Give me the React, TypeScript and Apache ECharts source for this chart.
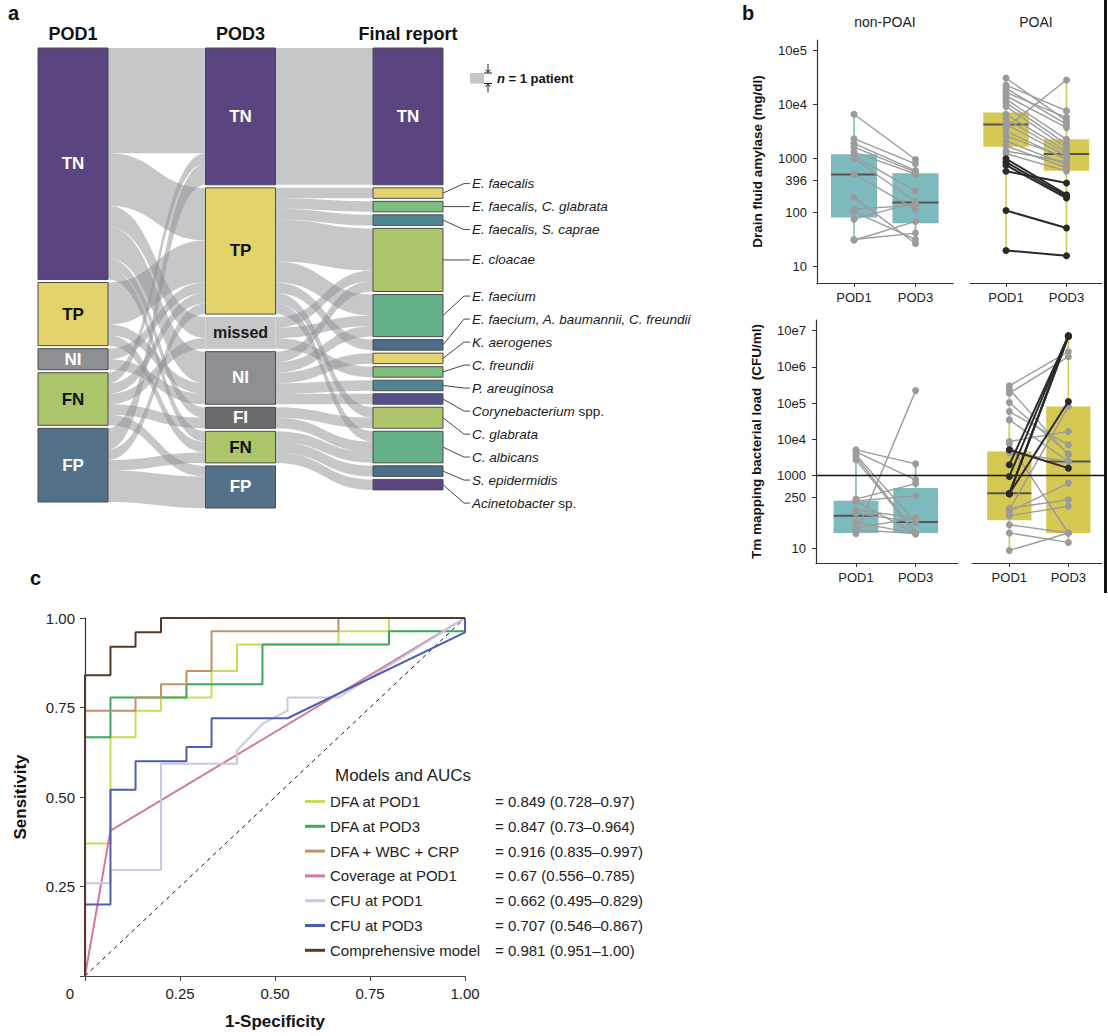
import React, { useEffect, useRef } from 'react';
import * as echarts from 'echarts';

const FONT = '"Liberation Sans", Arial, Helvetica, sans-serif';

// ---------------- Panel a : Sankey ----------------
const pod1Stages = ['TN', 'TP', 'NI', 'FN', 'FP'];
const pod3Stages = ['TN', 'TP', 'missed', 'NI', 'FI', 'FN', 'FP'];
const finalStages = [
  'TN', 'E. faecalis', 'E. faecalis, C. glabrata', 'E. faecalis, S. caprae', 'E. cloacae',
  'E. faecium', 'E. faecium, A. baumannii, C. freundii', 'K. aerogenes', 'C. freundii',
  'P. areuginosa', 'Corynebacterium spp.', 'C. glabrata', 'C. albicans', 'S. epidermidis',
  'Acinetobacter sp.',
];
const pod1ToPod3: [string, string, number][] = [
  ['TN', 'TN', 10], ['TN', 'TP', 5], ['TN', 'missed', 2], ['TN', 'NI', 3], ['TN', 'FI', 1], ['TN', 'FN', 1],
  ['TP', 'TP', 4], ['TP', 'NI', 1], ['TP', 'FN', 1],
  ['NI', 'TP', 1], ['NI', 'NI', 1],
  ['FN', 'TN', 1], ['FN', 'TP', 1], ['FN', 'missed', 1], ['FN', 'FI', 1], ['FN', 'FP', 1],
  ['FP', 'TN', 2], ['FP', 'TP', 1], ['FP', 'FN', 1], ['FP', 'FP', 3],
];
const pod3ToFinal: [string, string, number][] = [
  ['TN', 'TN', 13],
  ['TP', 'E. faecalis', 1], ['TP', 'E. faecalis, C. glabrata', 1], ['TP', 'E. faecalis, S. caprae', 1],
  ['TP', 'E. cloacae', 4], ['TP', 'E. faecium', 2], ['TP', 'E. faecium, A. baumannii, C. freundii', 1],
  ['TP', 'C. glabrata', 1], ['TP', 'C. albicans', 1],
  ['missed', 'E. cloacae', 1], ['missed', 'E. faecium', 1], ['missed', 'C. freundii', 1],
  ['NI', 'E. cloacae', 1], ['NI', 'E. faecium', 1], ['NI', 'K. aerogenes', 1], ['NI', 'P. areuginosa', 1],
  ['NI', 'Corynebacterium spp.', 1],
  ['FI', 'C. glabrata', 1], ['FI', 'C. albicans', 1],
  ['FN', 'C. albicans', 1], ['FN', 'S. epidermidis', 1], ['FN', 'Acinetobacter sp.', 1],
];

// styles (kept apart from data)
const stageColors: Record<string, string> = {
  TN: '#5a4580', TP: '#e2d36b', NI: '#8e8f93', FN: '#adc56a', FP: '#537189', FI: '#6a6b6e', missed: '#c6c7c9',
};
const stageTextColors: Record<string, string> = {
  TN: '#ffffff', TP: '#111111', NI: '#ffffff', FN: '#111111', FP: '#ffffff', FI: '#ffffff', missed: '#1a1a1a',
};
const speciesColors = [
  '#e3d36c', '#7dbd7d', '#4f8591', '#aec66b', '#64b089', '#4b6e8b', '#e3d36c',
  '#7dbd7d', '#4f8591', '#52508a', '#aec66b', '#64b089', '#4b6e8b', '#5a4580',
];

// ---------------- Panel b : paired box plots ----------------
const timepoints = ['POD1', 'POD3'];
const amyTicks = [10, 100, 396, 1000, 10000, 100000];
const amyTickLabels = ['10', '100', '396', '1000', '10e4', '10e5'];
const cfuTicks = [10, 250, 1000, 10000, 100000, 1000000, 10000000];
const cfuTickLabels = ['10', '250', '1000', '10e4', '10e5', '10e6', '10e7'];
const cfuThreshold = 1000;

// box stats: [min, q1, median, q3, max]
const amyNonBox = [[32, 82, 513, 1210, 6500], [27, 64, 155, 540, 970]];
const amyPoaiBox = [[20, 1670, 4300, 7200, 31300], [16, 600, 1220, 2300, 28700]];
const cfuNonBox = [[25, 26, 78, 201, 5120], [25, 26, 52, 450, 2100]];
const cfuPoaiBox = [[8.6, 58, 327, 4600, 297000], [14.3, 26, 2440, 80000, 7000000]];

const amyNonPod1 = [6670, 2350, 1920, 1640, 1330, 1120, 1000, 524, 193, 117, 104, 76, 32, 31];
const amyNonPod3 = [970, 805, 605, 563, 524, 253, 160, 114, 27, 137, 32, 156, 42, 69];
const amyPoaiPod1 = [31300, 23100, 20000, 16900, 14600, 12700, 11000, 9270, 6670, 5380, 4340, 3770, 3260, 2630, 2130, 1720, 1390, 1250];
const amyPoaiPod3 = [5010, 7690, 4340, 5780, 3770, 2290, 1840, 1600, 1390, 1250, 1120, 28700, 970, 1050, 780, 680, 870, 590];
const amyPoaiDarkPod1 = [1000, 865, 760, 587, 110, 20];
const amyPoaiDarkPod3 = [216, 201, 187, 356, 52, 16];

const cfuNonPod1 = [5120, 4500, 3720, 3350, 2710, 224, 200, 193, 114, 92, 51, 36, 32, 25];
const cfuNonPod3 = [2100, 762, 51, 26, 25, 600, 277, 25, 67, 51, 25, 67, 25, 220000];
const cfuPoaiPod1 = [297000, 240000, 186000, 103000, 58200, 34300, 8670, 7480, 4340, 126, 114, 102, 78, 44, 26, 8.6];
const cfuPoaiPod3 = [2600000, 3720, 1900000, 3970, 7030, 2440, 16400, 26, 2440, 215, 80000, 618, 141, 26, 14.3, 26];
const cfuPoaiDarkPod1 = [5120, 1980, 942, 314, 314, 314, 314];
const cfuPoaiDarkPod3 = [1600, 7000000, 7200000, 6900000, 7100000, 6800000, 110000];

// ---------------- Panel c : ROC ----------------
const rocNames = ['DFA at POD1', 'DFA at POD3', 'DFA + WBC + CRP', 'Coverage at POD1', 'CFU at POD1', 'CFU at POD3', 'Comprehensive model'];
const rocAucs = ['= 0.849 (0.728–0.97)', '= 0.847 (0.73–0.964)', '= 0.916 (0.835–0.997)', '= 0.67 (0.556–0.785)', '= 0.662 (0.495–0.829)', '= 0.707 (0.546–0.867)', '= 0.981 (0.951–1.00)'];
const rocDfaPod1 = [[0, 0], [0, 0.37], [0.067, 0.37], [0.067, 0.667], [0.133, 0.667], [0.133, 0.741], [0.2, 0.741], [0.2, 0.778], [0.333, 0.778], [0.333, 0.852], [0.4, 0.852], [0.4, 0.926], [0.667, 0.926], [0.667, 0.963], [0.8, 0.963], [0.8, 1], [1, 1]];
const rocDfaPod3 = [[0, 0], [0, 0.667], [0.067, 0.667], [0.067, 0.778], [0.267, 0.778], [0.267, 0.815], [0.467, 0.815], [0.467, 0.926], [0.8, 0.926], [0.8, 0.963], [1, 0.963], [1, 1]];
const rocDfaWbcCrp = [[0, 0], [0, 0.741], [0.133, 0.741], [0.133, 0.778], [0.2, 0.778], [0.2, 0.815], [0.267, 0.815], [0.267, 0.852], [0.333, 0.852], [0.333, 0.963], [0.667, 0.963], [0.667, 1], [1, 1]];
const rocCoverage = [[0, 0], [0.067, 0.406], [1, 1]];
const rocCfuPod1 = [[0, 0], [0, 0.259], [0.067, 0.259], [0.067, 0.296], [0.2, 0.296], [0.2, 0.593], [0.4, 0.593], [0.4, 0.63], [0.467, 0.704], [0.533, 0.741], [0.533, 0.778], [0.667, 0.778], [1, 1]];
const rocCfuPod3 = [[0, 0], [0, 0.2], [0.067, 0.2], [0.067, 0.52], [0.133, 0.52], [0.133, 0.6], [0.267, 0.6], [0.267, 0.64], [0.333, 0.64], [0.333, 0.72], [0.533, 0.72], [1, 0.96], [1, 1]];
const rocComprehensive = [[0, 0], [0, 0.84], [0.067, 0.84], [0.067, 0.92], [0.133, 0.92], [0.133, 0.96], [0.2, 0.96], [0.2, 1], [1, 1]];
const rocChance = [[0, 0], [1, 1]];
const rocColors = ['#c9dc55', '#3da85c', '#c39168', '#d5779f', '#c6c9e3', '#4d5db0', '#5b3826'];

// ---------------- layout constants ----------------
const SANKEY_LEFT = 38;
const SANKEY_TOP = 48;
const BOX_HALF = 0.375;
const TEAL = '#7cbabd';
const YELLOW = '#d5c853';

function tickFormatter(ticks: number[], labels: string[]) {
  return (v: number) => {
    const i = ticks.findIndex((t) => Math.abs(t - v) / t < 1e-3);
    return i >= 0 ? labels[i] : '';
  };
}

function logAxis(gridIndex: number, min: number, max: number, ticks: number[], labels: string[], show: boolean, name?: string) {
  return {
    type: 'log', logBase: 10, gridIndex, min, max, show,
    name: name || '', nameLocation: 'middle', nameGap: 53,
    nameTextStyle: { fontFamily: FONT, fontWeight: 'bold', fontSize: 13.5, color: '#111' },
    axisLine: { show: true, lineStyle: { color: '#333', width: 1.2 } },
    axisTick: { show: true, length: 4, customValues: ticks, lineStyle: { color: '#333' } },
    axisLabel: { show: true, customValues: ticks, formatter: tickFormatter(ticks, labels), fontFamily: FONT, fontSize: 13, color: '#222', margin: 10 },
    splitLine: { show: false }, minorTick: { show: false }, minorSplitLine: { show: false },
  };
}

function podAxis(gridIndex: number, min: number, max: number) {
  return {
    type: 'value', gridIndex, min, max,
    axisLine: { show: true, onZero: false, lineStyle: { color: '#333', width: 1.2 } },
    axisTick: { show: true, length: 4, customValues: [1, 2], lineStyle: { color: '#333' } },
    axisLabel: { show: true, customValues: [1, 2], formatter: (v: number) => timepoints[Math.round(v) - 1] ?? '', fontFamily: FONT, fontSize: 13, color: '#222', margin: 8 },
    splitLine: { show: false },
  };
}

function boxSeries(axisIndex: number, stats: number[][], color: string) {
  return {
    type: 'custom', xAxisIndex: axisIndex, yAxisIndex: axisIndex, z: 2, silent: true,
    data: stats.map((s, i) => [i + 1, ...s]),
    encode: { x: 0, y: [1, 2, 3, 4, 5] },
    renderItem: (_p: any, api: any) => {
      const x = api.value(0);
      const pMin = api.coord([x, api.value(1)]);
      const pQ1 = api.coord([x - BOX_HALF, api.value(2)]);
      const pQ3 = api.coord([x + BOX_HALF, api.value(4)]);
      const pMed0 = api.coord([x - BOX_HALF, api.value(3)]);
      const pMed1 = api.coord([x + BOX_HALF, api.value(3)]);
      const pMax = api.coord([x, api.value(5)]);
      return {
        type: 'group',
        children: [
          { type: 'line', shape: { x1: pMin[0], y1: pMin[1], x2: pMax[0], y2: pMax[1] }, style: { stroke: color, lineWidth: 1.6 } },
          { type: 'rect', shape: { x: pQ1[0], y: pQ3[1], width: pQ3[0] - pQ1[0], height: pQ1[1] - pQ3[1] }, style: { fill: color } },
          { type: 'line', shape: { x1: pMed0[0], y1: pMed0[1], x2: pMed1[0], y2: pMed1[1] }, style: { stroke: '#555', lineWidth: 2 } },
        ],
      };
    },
  };
}

function pairSeries(axisIndex: number, pod1: number[], pod3: number[], color: string, lineWidth: number, z: number) {
  return {
    type: 'custom', xAxisIndex: axisIndex, yAxisIndex: axisIndex, z, silent: true,
    data: pod1.map((v, i) => [1, v, 2, pod3[i]]),
    encode: { x: [0, 2], y: [1, 3] },
    renderItem: (_p: any, api: any) => {
      const a = api.coord([api.value(0), api.value(1)]);
      const b = api.coord([api.value(2), api.value(3)]);
      return {
        type: 'group',
        children: [
          { type: 'line', shape: { x1: a[0], y1: a[1], x2: b[0], y2: b[1] }, style: { stroke: color, lineWidth } },
          { type: 'circle', shape: { cx: a[0], cy: a[1], r: 3.5 }, style: { fill: color } },
          { type: 'circle', shape: { cx: b[0], cy: b[1], r: 3.5 }, style: { fill: color } },
        ],
      };
    },
  };
}

function buildSankey() {
  const nodes: any[] = [];
  const lbl = (s: string, show: boolean) => ({
    show, formatter: s, position: 'inside', color: stageTextColors[s] || '#111',
    fontFamily: FONT, fontWeight: 'bold', fontSize: s === 'missed' ? 16 : 17,
  });
  pod1Stages.forEach((s) => nodes.push({ name: 'POD1:' + s, depth: 0, itemStyle: { color: stageColors[s] }, label: lbl(s, true) }));
  pod3Stages.forEach((s) => nodes.push({
    name: 'POD3:' + s, depth: 1,
    itemStyle: { color: stageColors[s], borderWidth: s === 'missed' ? 0 : 1 },
    label: lbl(s, true),
  }));
  finalStages.forEach((s, i) => nodes.push({
    name: 'FINAL:' + s, depth: 2,
    itemStyle: { color: i === 0 ? stageColors.TN : speciesColors[i - 1] },
    label: lbl(s, i === 0),
  }));
  const links = [
    ...pod1ToPod3.map(([s, t, v]) => ({ source: 'POD1:' + s, target: 'POD3:' + t, value: v })),
    ...pod3ToFinal.map(([s, t, v]) => ({ source: 'POD3:' + s, target: 'FINAL:' + t, value: v })),
  ];
  return {
    type: 'sankey', left: SANKEY_LEFT, top: SANKEY_TOP, width: 405, height: 460,
    nodeWidth: 70, nodeGap: 3, layoutIterations: 0, nodeAlign: 'left', draggable: false,
    emphasis: { disabled: true }, silent: true,
    lineStyle: { color: '#8e9093', opacity: 0.5, curveness: 0.5 },
    itemStyle: { borderColor: '#4d4d4d', borderWidth: 1 },
    data: nodes, links,
  };
}

function buildOption() {
  const rocData = [rocDfaPod1, rocDfaPod3, rocDfaWbcCrp, rocCoverage, rocCfuPod1, rocCfuPod3, rocComprehensive];
  const rocSeries = rocData.map((d, i) => ({
    type: 'line', name: rocNames[i], xAxisIndex: 4, yAxisIndex: 4, data: d,
    showSymbol: false, symbol: 'none', clip: false, silent: true, z: 3 + i * 0.01,
    color: rocColors[i], lineStyle: { color: rocColors[i], width: 2 }, itemStyle: { color: rocColors[i] },
    emphasis: { disabled: true },
  }));
  return {
    animation: false,
    textStyle: { fontFamily: FONT },
    tooltip: { show: false },
    grid: [
      { left: 817, top: 40, width: 136, height: 243, outerBoundsMode: 'none' },
      { left: 970, top: 40, width: 132, height: 243, outerBoundsMode: 'none' },
      { left: 816, top: 320, width: 142, height: 243, outerBoundsMode: 'none' },
      { left: 972, top: 320, width: 130, height: 243, outerBoundsMode: 'none' },
      { left: 85, top: 618, width: 380, height: 358, outerBoundsMode: 'none' },
    ],
    xAxis: [
      podAxis(0, 0.398, 2.61),
      podAxis(1, 0.405, 2.587),
      podAxis(2, 0.33, 2.71),
      podAxis(3, 0.368, 2.57),
      {
        type: 'value', gridIndex: 4, min: 0, max: 1, interval: 0.25,
        name: '1-Specificity', nameLocation: 'middle', nameGap: 37,
        nameTextStyle: { fontFamily: FONT, fontWeight: 'bold', fontSize: 17, color: '#111' },
        axisLine: { show: true, onZero: false, lineStyle: { color: '#444', width: 1.2 } },
        axisTick: { show: true, length: 5, lineStyle: { color: '#444' } },
        axisLabel: {
          formatter: (v: number) => (v === 0 ? '{z|0}' : v.toFixed(2)),
          fontFamily: FONT, fontSize: 15, color: '#222', margin: 10,
          rich: { z: { padding: [0, 30, 0, 0], fontFamily: FONT, fontSize: 15, color: '#222' } },
        },
        splitLine: { show: false },
      },
    ],
    yAxis: [
      logAxis(0, 5, 158000, amyTicks, amyTickLabels, true, 'Drain fluid amylase (mg/dl)'),
      logAxis(1, 5, 158000, amyTicks, amyTickLabels, false),
      logAxis(2, 3.87, 19500000, cfuTicks, cfuTickLabels, true, 'Tm mapping bacterial load  (CFU/ml)'),
      logAxis(3, 3.87, 19500000, cfuTicks, cfuTickLabels, false),
      {
        type: 'value', gridIndex: 4, min: 0, max: 1, interval: 0.25,
        name: 'Sensitivity', nameLocation: 'middle', nameGap: 56,
        nameTextStyle: { fontFamily: FONT, fontWeight: 'bold', fontSize: 17, color: '#111' },
        axisLine: { show: true, onZero: false, lineStyle: { color: '#333', width: 1.2 } },
        axisTick: { show: true, length: 5, lineStyle: { color: '#444' } },
        axisLabel: { formatter: (v: number) => (v === 0 ? '' : v.toFixed(2)), fontFamily: FONT, fontSize: 15, color: '#222', margin: 10 },
        splitLine: { show: false },
      },
    ],
    legend: {
      show: true, data: rocNames, orient: 'vertical', left: 305, top: 794, padding: 0,
      itemWidth: 20, itemHeight: 3, itemGap: 9.8, icon: 'rect', selectedMode: false,
      formatter: (name: string) => `{n|${name}}{v|${rocAucs[rocNames.indexOf(name)]}}`,
      textStyle: {
        fontFamily: FONT, fontSize: 15, color: '#222',
        rich: {
          n: { width: 165, fontFamily: FONT, fontSize: 15, color: '#222', lineHeight: 18 },
          v: { fontFamily: FONT, fontSize: 15, color: '#222', lineHeight: 18 },
        },
      },
    },
    series: [
      buildSankey(),
      boxSeries(0, amyNonBox, TEAL),
      boxSeries(1, amyPoaiBox, YELLOW),
      boxSeries(2, cfuNonBox, TEAL),
      boxSeries(3, cfuPoaiBox, YELLOW),
      pairSeries(0, amyNonPod1, amyNonPod3, '#9b9b9b', 1.4, 3),
      pairSeries(1, amyPoaiPod1, amyPoaiPod3, '#9b9b9b', 1.4, 3),
      pairSeries(1, amyPoaiDarkPod1, amyPoaiDarkPod3, '#2a2a2a', 2, 4),
      pairSeries(2, cfuNonPod1, cfuNonPod3, '#9b9b9b', 1.4, 3),
      pairSeries(3, cfuPoaiPod1, cfuPoaiPod3, '#9b9b9b', 1.4, 3),
      pairSeries(3, cfuPoaiDarkPod1, cfuPoaiDarkPod3, '#2a2a2a', 2, 4),
      {
        type: 'line', xAxisIndex: 4, yAxisIndex: 4, data: rocChance, showSymbol: false, symbol: 'none',
        silent: true, z: 2, lineStyle: { color: '#111', width: 1, type: [4, 4] }, emphasis: { disabled: true },
      },
      ...rocSeries,
    ],
  };
}

function gText(x: number, y: number, text: string, opts: any = {}) {
  const align = opts.textAlign || 'left';
  const valign = opts.textVerticalAlign || 'middle';
  return {
    type: 'text', x, y, silent: true, z: opts.z ?? 5,
    style: {
      text, fill: opts.fill || '#111', fontFamily: FONT, fontSize: opts.fontSize || 13,
      fontWeight: opts.fontWeight || 'normal', fontStyle: opts.fontStyle || 'normal',
      textAlign: align, textVerticalAlign: valign, align, verticalAlign: valign,
      rich: opts.rich,
    },
  };
}

function spreadLabels(centers: number[], gap: number) {
  let clusters = centers.map((c) => ({ n: 1, mean: c }));
  let merged = true;
  while (merged) {
    merged = false;
    for (let k = 0; k < clusters.length - 1; k++) {
      const a = clusters[k];
      const b = clusters[k + 1];
      const aBottom = a.mean + ((a.n - 1) * gap) / 2;
      const bTop = b.mean - ((b.n - 1) * gap) / 2;
      if (bTop - aBottom < gap) {
        const n = a.n + b.n;
        clusters.splice(k, 2, { n, mean: (a.mean * a.n + b.mean * b.n) / n });
        merged = true;
        break;
      }
    }
  }
  const ys: number[] = [];
  clusters.forEach((c) => {
    for (let j = 0; j < c.n; j++) ys.push(c.mean + (j - (c.n - 1) / 2) * gap);
  });
  return ys;
}

function speciesText(name: string) {
  if (name.endsWith(' spp.')) return `{i|${name.slice(0, -5)}}{r| spp.}`;
  if (name.endsWith(' sp.')) return `{i|${name.slice(0, -4)}}{r| sp.}`;
  return `{i|${name}}`;
}

function buildGraphics(chart: any) {
  const els: any[] = [];
  els.push(gText(8, 13, 'a', { fontSize: 20, fontWeight: 'bold' }));
  els.push(gText(742, 13, 'b', { fontSize: 20, fontWeight: 'bold' }));
  els.push(gText(30, 578, 'c', { fontSize: 20, fontWeight: 'bold' }));
  els.push(gText(885, 22, 'non-POAI', { fontSize: 14, textAlign: 'center', fill: '#222' }));
  els.push(gText(1036, 22, 'POAI', { fontSize: 14, textAlign: 'center', fill: '#222' }));
  els.push(gText(335, 775, 'Models and AUCs', { fontSize: 17, fill: '#222' }));
  els.push({ type: 'rect', silent: true, z: 5, shape: { x: 1104, y: 0, width: 3, height: 593 }, style: { fill: '#111' } });

  try {
    const y = chart.convertToPixel({ yAxisIndex: 2 }, cfuThreshold);
    if (isFinite(y)) {
      els.push({ type: 'line', silent: true, z: 3.5, shape: { x1: 816, y1: y, x2: 1104, y2: y }, style: { stroke: '#111', lineWidth: 1.5 } });
    }
  } catch (e) { /* ignore */ }

  try {
    const data = chart.getModel().getSeriesByIndex(0).getData();
    const lay = (name: string) => data.getItemLayout(data.indexOfName(name));
    const headers: [string, string][] = [['POD1:TN', 'POD1'], ['POD3:TN', 'POD3'], ['FINAL:TN', 'Final report']];
    headers.forEach(([n, t]) => {
      const l = lay(n);
      els.push(gText(SANKEY_LEFT + l.x + l.dx / 2, SANKEY_TOP - 14, t, { fontSize: 18, fontWeight: 'bold', textAlign: 'center' }));
    });

    // n = 1 patient key
    const tn = lay('POD1:TN');
    const unit = tn.dy / tn.value;
    const kx = 470, ky = 73;
    els.push({ type: 'rect', silent: true, shape: { x: kx, y: ky, width: 14, height: unit }, style: { fill: '#c5c6c8' } });
    const ax = kx + 18;
    const ln = (x1: number, y1: number, x2: number, y2: number) => ({ type: 'line', silent: true, shape: { x1, y1, x2, y2 }, style: { stroke: '#222', lineWidth: 1 } });
    els.push(ln(ax - 4, ky, ax + 4, ky));
    els.push(ln(ax, ky - 9, ax, ky - 0.5));
    els.push({ type: 'polyline', silent: true, shape: { points: [[ax - 2.5, ky - 3.5], [ax, ky - 0.5], [ax + 2.5, ky - 3.5]] }, style: { stroke: '#222', lineWidth: 1, fill: null } });
    els.push(ln(ax - 4, ky + unit, ax + 4, ky + unit));
    els.push(ln(ax, ky + unit + 9, ax, ky + unit + 0.5));
    els.push({ type: 'polyline', silent: true, shape: { points: [[ax - 2.5, ky + unit + 3.5], [ax, ky + unit + 0.5], [ax + 2.5, ky + unit + 3.5]] }, style: { stroke: '#222', lineWidth: 1, fill: null } });
    els.push(gText(ax + 9, ky + unit / 2, '{i|n}{b| = 1 patient}', {
      fontSize: 13, fontWeight: 'bold',
      rich: {
        i: { fontFamily: FONT, fontSize: 13, fontWeight: 'bold', fontStyle: 'italic' },
        b: { fontFamily: FONT, fontSize: 13, fontWeight: 'bold', fontStyle: 'normal' },
      },
    }));

    // species labels with leader lines
    const species = finalStages.slice(1);
    const info = species.map((s) => {
      const l = lay('FINAL:' + s);
      return { right: SANKEY_LEFT + l.x + l.dx, cy: SANKEY_TOP + l.y + l.dy / 2 };
    });
    const ys = spreadLabels(info.map((d) => d.cy), 23);
    species.forEach((s, i) => {
      const { right, cy } = info[i];
      const ly = ys[i];
      els.push({ type: 'polyline', silent: true, shape: { points: [[right, cy], [right + 21, ly], [right + 27, ly]] }, style: { stroke: '#333', lineWidth: 0.9, fill: null } });
      els.push(gText(right + 29, ly, speciesText(s), {
        fontSize: 13.5, fill: '#1a1a1a',
        rich: {
          i: { fontFamily: FONT, fontSize: 13.5, fontStyle: 'italic', fontWeight: 'normal' },
          r: { fontFamily: FONT, fontSize: 13.5, fontStyle: 'normal', fontWeight: 'normal' },
        },
      }));
    });
  } catch (e) { /* ignore */ }

  return els;
}

export default function App() {
  const ref = useRef<HTMLDivElement>(null);
  useEffect(() => {
    if (!ref.current) return;
    const chart = echarts.init(ref.current, null, { renderer: 'svg' });
    chart.setOption(buildOption() as any);
    chart.setOption({ graphic: { elements: buildGraphics(chart) } } as any);
    return () => chart.dispose();
  }, []);
  return (
    <div
      ref={ref}
      style={{ position: 'absolute', left: 0, top: 0, width: 1108, height: 1036, background: '#ffffff' }}
    />
  );
}
